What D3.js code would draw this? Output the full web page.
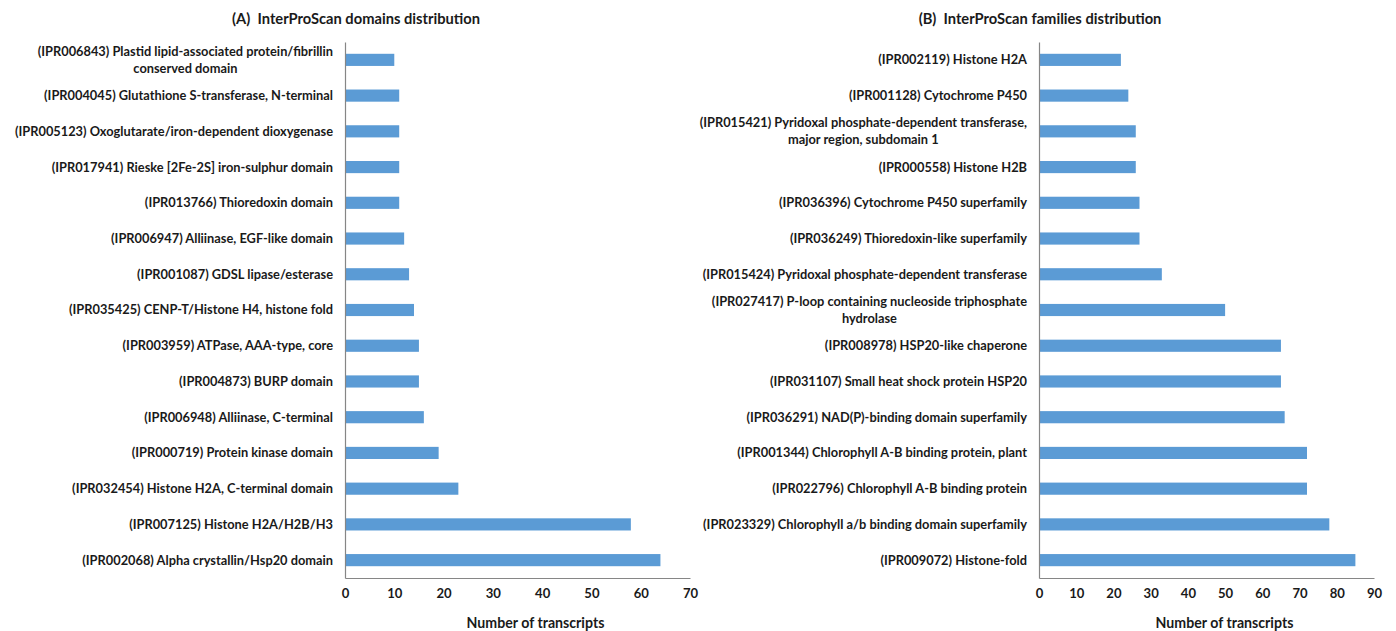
<!DOCTYPE html>
<html>
<head>
<meta charset="utf-8">
<script src="https://cdn.jsdelivr.net/npm/d3@7"></script>
<style>
  html, body { margin: 0; padding: 0; background: #fff; }
  svg text { font-family: Lato, "Open Sans", sans-serif; font-weight: 700; fill: #1a1a1a; white-space: pre; }
</style>
</head>
<body>
<svg id="chart" width="1396" height="631"></svg>
<script>
// ---- Panel A: InterProScan domains (top to bottom) ----
const domainCategories = [
  "(IPR006843) Plastid lipid-associated protein/fibrillin\nconserved domain",
  "(IPR004045) Glutathione S-transferase, N-terminal",
  "(IPR005123) Oxoglutarate/iron-dependent dioxygenase",
  "(IPR017941) Rieske [2Fe-2S] iron-sulphur domain",
  "(IPR013766) Thioredoxin domain",
  "(IPR006947) Alliinase, EGF-like domain",
  "(IPR001087) GDSL lipase/esterase",
  "(IPR035425) CENP-T/Histone H4, histone fold",
  "(IPR003959) ATPase, AAA-type, core",
  "(IPR004873) BURP domain",
  "(IPR006948) Alliinase, C-terminal",
  "(IPR000719) Protein kinase domain",
  "(IPR032454) Histone H2A, C-terminal domain",
  "(IPR007125) Histone H2A/H2B/H3",
  "(IPR002068) Alpha crystallin/Hsp20 domain"
];
const domainValues = [10, 11, 11, 11, 11, 12, 13, 14, 15, 15, 16, 19, 23, 58, 64];
const domainTicks = [0, 10, 20, 30, 40, 50, 60, 70];

// ---- Panel B: InterProScan families (top to bottom) ----
const familyCategories = [
  "(IPR002119) Histone H2A",
  "(IPR001128) Cytochrome P450",
  "(IPR015421) Pyridoxal phosphate-dependent transferase,\nmajor region, subdomain 1",
  "(IPR000558) Histone H2B",
  "(IPR036396) Cytochrome P450 superfamily",
  "(IPR036249) Thioredoxin-like superfamily",
  "(IPR015424) Pyridoxal phosphate-dependent transferase",
  "(IPR027417) P-loop containing nucleoside triphosphate\nhydrolase",
  "(IPR008978) HSP20-like chaperone",
  "(IPR031107) Small heat shock protein HSP20",
  "(IPR036291) NAD(P)-binding domain superfamily",
  "(IPR001344) Chlorophyll A-B binding protein, plant",
  "(IPR022796) Chlorophyll A-B binding protein",
  "(IPR023329) Chlorophyll a/b binding domain superfamily",
  "(IPR009072) Histone-fold"
];
const familyValues = [22, 24, 26, 26, 27, 27, 33, 50, 65, 65, 66, 72, 72, 78, 85];
const familyTicks = [0, 10, 20, 30, 40, 50, 60, 70, 80, 90];

const titles = ["(A)  InterProScan domains distribution", "(B)  InterProScan families distribution"];
const axisTitle = "Number of transcripts";

const svg = d3.select("#chart");
const barColor = "#5b9bd5";
const axisColor = "#868686";

// Measure a string at a reference size so fonts can be sized to a target width
function fitSize(text, targetWidth) {
  const t = svg.append("text").attr("font-size", 100).text(text);
  const w = t.node().getComputedTextLength();
  t.remove();
  return 100 * targetWidth / w;
}
const labelSize = fitSize("(IPR002068) Alpha crystallin/Hsp20 domain", 251);
const titleSize = fitSize(titles[0], 248);
const axisTitleSize = fitSize(axisTitle, 138);
const tickFont = labelSize * 1.02;

const plotTop = 42, plotBottom = 578;

function panel(cfg) {
  const g = svg.append("g");
  const y = d3.scaleBand()
    .domain(cfg.categories)
    .range([plotTop, plotBottom])
    .paddingInner(0.66)
    .paddingOuter(0.33);
  const x = d3.scaleLinear()
    .domain([0, d3.max(cfg.ticks)])
    .range([cfg.x0, cfg.x1]);

  // bars
  g.selectAll("rect.bar")
    .data(cfg.categories.map((c, i) => ({ c, v: cfg.values[i] })))
    .join("rect")
    .attr("class", "bar")
    .attr("x", x(0))
    .attr("y", d => y(d.c))
    .attr("width", d => x(d.v) - x(0))
    .attr("height", y.bandwidth())
    .attr("fill", barColor);

  // x axis
  const xAxis = g.append("g")
    .attr("transform", `translate(0,${plotBottom})`)
    .call(d3.axisBottom(x).tickValues(cfg.ticks).tickSize(0).tickSizeOuter(0).tickPadding(11));
  xAxis.select(".domain").attr("stroke", axisColor).attr("stroke-width", 1.2);
  xAxis.selectAll("text")
    .attr("font-size", tickFont)
    .attr("font-family", "Lato, sans-serif")
    .attr("font-weight", 700)
    .attr("fill", "#1a1a1a");

  // y axis line
  const yAxis = g.append("g")
    .attr("transform", `translate(${x(0)},0)`)
    .call(d3.axisLeft(y).tickSize(0).tickSizeOuter(0).tickFormat(""));
  yAxis.select(".domain").attr("stroke", axisColor).attr("stroke-width", 1.2);

  // category labels: block right-aligned, wrapped lines centred on the first line
  const lineH = labelSize * 1.32;
  const labelRight = x(0) - 12;
  cfg.categories.forEach(cat => {
    const lines = cat.split("\n");
    const cy = y(cat) + y.bandwidth() / 2;
    const t0 = svg.append("text").attr("font-size", labelSize).text(lines[0]);
    const w0 = t0.node().getComputedTextLength();
    t0.remove();
    lines.forEach((ln, i) => {
      const off = (i - (lines.length - 1) / 2) * lineH;
      g.append("text")
        .attr("x", i === 0 ? labelRight : labelRight - w0 / 2)
        .attr("y", cy + off)
        .attr("dy", "0.35em")
        .attr("text-anchor", i === 0 ? "end" : "middle")
        .attr("font-size", labelSize)
        .text(ln);
    });
  });

  // panel title
  g.append("text")
    .attr("x", cfg.titleX)
    .attr("y", 19)
    .attr("dy", "0.35em")
    .attr("text-anchor", "middle")
    .attr("font-size", titleSize)
    .text(cfg.title);

  // axis title
  g.append("text")
    .attr("x", (cfg.x0 + cfg.x1) / 2 + 18)
    .attr("y", 623)
    .attr("dy", "0.35em")
    .attr("text-anchor", "middle")
    .attr("font-size", axisTitleSize)
    .text(axisTitle);
}

panel({ categories: domainCategories, values: domainValues, ticks: domainTicks,
        x0: 345, x1: 690, title: titles[0], titleX: 356 });
panel({ categories: familyCategories, values: familyValues, ticks: familyTicks,
        x0: 1039, x1: 1374, title: titles[1], titleX: 1040 });
</script>
</body>
</html>
